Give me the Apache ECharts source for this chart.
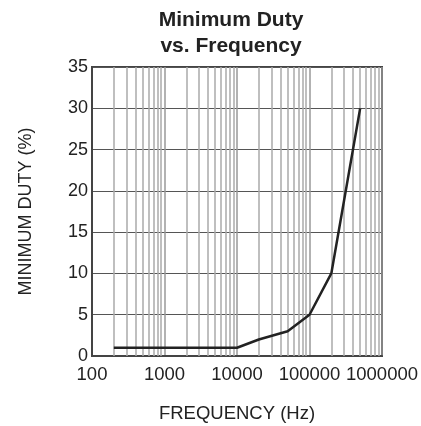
<!DOCTYPE html>
<html>
<head>
<meta charset="utf-8">
<script src="https://cdn.jsdelivr.net/npm/echarts@6/dist/echarts.min.js"></script>
<style>
  html, body { margin: 0; padding: 0; background: #fff; }
  #chart { width: 421px; height: 426px; }
</style>
</head>
<body>
<div id="chart"></div>
<script>
// frequency (Hz) vs minimum duty (%)
const frequency = [200, 10000, 20000, 50000, 100000, 200000, 500000]
const minDuty = [1, 1, 2, 3, 5, 10, 30]

// log grid: decades and the 2..9 multipliers between them
const decades = [100, 1000, 10000, 100000]
const minorSteps = [2, 3, 4, 5, 6, 7, 8, 9]

const font = "'Liberation Sans', Arial, sans-serif"
const textColor = '#222'

const minorLines = []
decades.forEach((d) => {
  minorSteps.forEach((m) => minorLines.push({ xAxis: d * m }))
})

const chart = echarts.init(document.getElementById('chart'))

chart.setOption({
  backgroundColor: '#fff',
  animation: false,
  title: {
    text: 'Minimum Duty\nvs. Frequency',
    left: 226,
    top: 2,
    textAlign: 'center',
    textStyle: {
      fontFamily: font,
      fontSize: 21,
      fontWeight: 'bold',
      lineHeight: 26,
      color: textColor,
    },
  },
  grid: {
    left: 92,
    right: 39,
    top: 67,
    bottom: 70,
    outerBoundsMode: 'none',
    show: true,
    borderColor: '#444',
    borderWidth: 2,
    backgroundColor: 'transparent',
  },
  xAxis: {
    type: 'log',
    logBase: 10,
    min: 100,
    max: 1000000,
    name: 'FREQUENCY (Hz)',
    nameLocation: 'middle',
    nameGap: 48,
    nameTextStyle: { fontFamily: font, fontSize: 18.5, color: textColor },
    axisLine: { show: true, lineStyle: { color: '#444', width: 2 } },
    axisTick: { show: false },
    axisLabel: {
      fontFamily: font,
      fontSize: 18.5,
      color: textColor,
      margin: 9,
      formatter: (v) => String(Math.round(v)),
    },
    splitLine: { show: true, lineStyle: { color: '#999', width: 1.5 } },
  },
  yAxis: {
    type: 'value',
    min: 0,
    max: 35,
    interval: 5,
    name: 'MINIMUM DUTY (%)',
    nameLocation: 'middle',
    nameGap: 57,
    nameTextStyle: { fontFamily: font, fontSize: 18, color: textColor },
    axisLine: { show: true, lineStyle: { color: '#444', width: 2 } },
    axisTick: { show: false },
    axisLabel: { fontFamily: font, fontSize: 18, color: textColor, margin: 4 },
    splitLine: { show: true, lineStyle: { color: '#555', width: 1 } },
  },
  series: [
    {
      type: 'line',
      data: [],
      silent: true,
      markLine: {
        silent: true,
        symbol: 'none',
        label: { show: false },
        lineStyle: { color: '#aaa', width: 1.5, type: 'solid' },
        data: minorLines,
      },
      z: 1,
    },
    {
      name: 'Minimum Duty',
      type: 'line',
      data: frequency.map((f, i) => [f, minDuty[i]]),
      showSymbol: false,
      lineStyle: { color: '#222', width: 2.5 },
      z: 5,
    },
  ],
})
</script>
</body>
</html>
